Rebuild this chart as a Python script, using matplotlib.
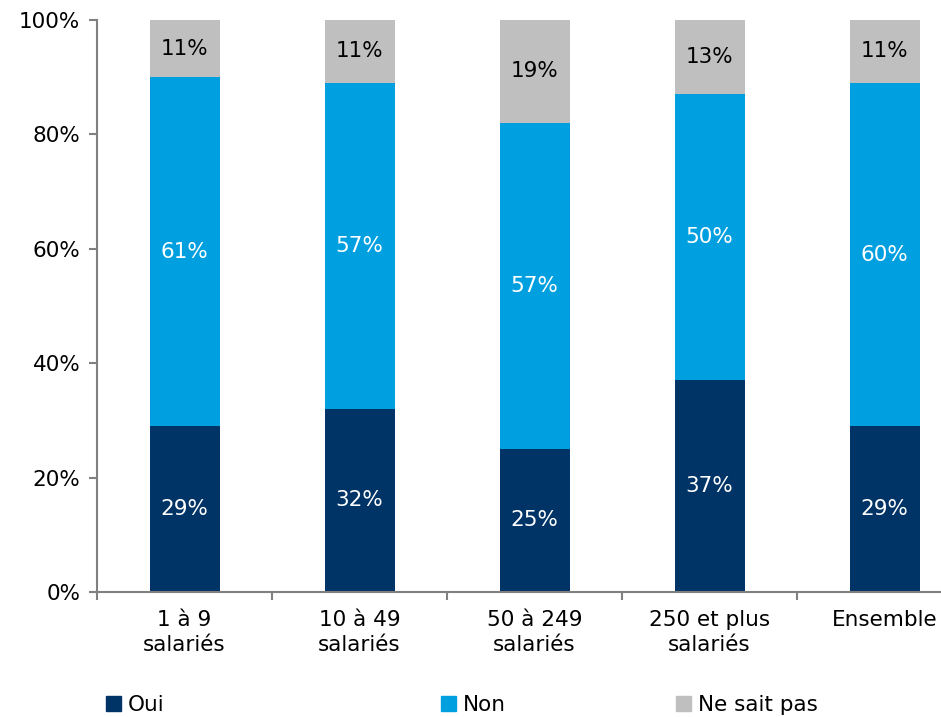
import matplotlib.pyplot as plt
import matplotlib.patches as mpatches
import numpy as np

plt.rcParams['font.family'] = ['DejaVu Sans']

categories = ['1 à 9\nsalariés', '10 à 49\nsalariés', '50 à 249\nsalariés', '250 et plus\nsalariés', 'Ensemble']
oui = [29, 32, 25, 37, 29]
non = [61, 57, 57, 50, 60]
nsp = [11, 11, 19, 13, 11]
series_names = ['Oui', 'Non', 'Ne sait pas']
colors = ['#003366', '#009FE0', '#BFBFBF']
label_colors = ['white', 'white', 'black']
fs = 15.5

fig = plt.figure(figsize=(9.41, 7.17), dpi=100)
ax = fig.add_axes([97 / 941, 125 / 717, 1 - 97 / 941, 572 / 717])

x = np.arange(len(categories))
bottom = np.zeros(len(categories))
for vals, name, col, lc in zip([oui, non, nsp], series_names, colors, label_colors):
    vals = np.array(vals, dtype=float)
    ax.bar(x, vals, width=0.4, bottom=bottom, color=col, label=name, zorder=2)
    for xi, b, v in zip(x, bottom, vals):
        top = min(b + v, 100)
        ax.text(xi, (b + top) / 2, f'{int(v)}%', ha='center', va='center',
                color=lc, fontsize=fs)
    bottom = bottom + vals

ax.set_ylim(0, 100)
ax.set_xlim(-0.5, -0.5 + (941 - 97) / 175)
ax.set_yticks(range(0, 101, 20))
ax.set_yticklabels([f'{v}%' for v in range(0, 101, 20)], fontsize=fs)
ax.set_xticks(x)
ax.set_xticklabels(categories, fontsize=fs, linespacing=1.3)
ax.set_xticks(np.arange(-0.5, 4.0, 1.0), minor=True)
ax.tick_params(axis='x', which='major', length=0, pad=13)
ax.tick_params(axis='x', which='minor', length=6, color='#808080', width=1.5, direction='out')
ax.tick_params(axis='y', length=6, color='#808080', width=1.5, direction='out', pad=6)

for s in ['top', 'right']:
    ax.spines[s].set_visible(False)
for s in ['left', 'bottom']:
    ax.spines[s].set_color('#808080')
    ax.spines[s].set_linewidth(1.5)

# legend items placed individually, like the original
legend_x = [106 / 941, 441 / 941, 676 / 941]
for name, col, lx in zip(series_names, colors, legend_x):
    h = mpatches.Patch(color=col, label=name)
    fig.legend(handles=[h], loc='center left', bbox_to_anchor=(lx, 12 / 717),
               frameon=False, fontsize=fs, handlelength=0.7, handleheight=0.7,
               handletextpad=0.3, borderaxespad=0, borderpad=0)

fig.savefig('out.png', dpi=100)
